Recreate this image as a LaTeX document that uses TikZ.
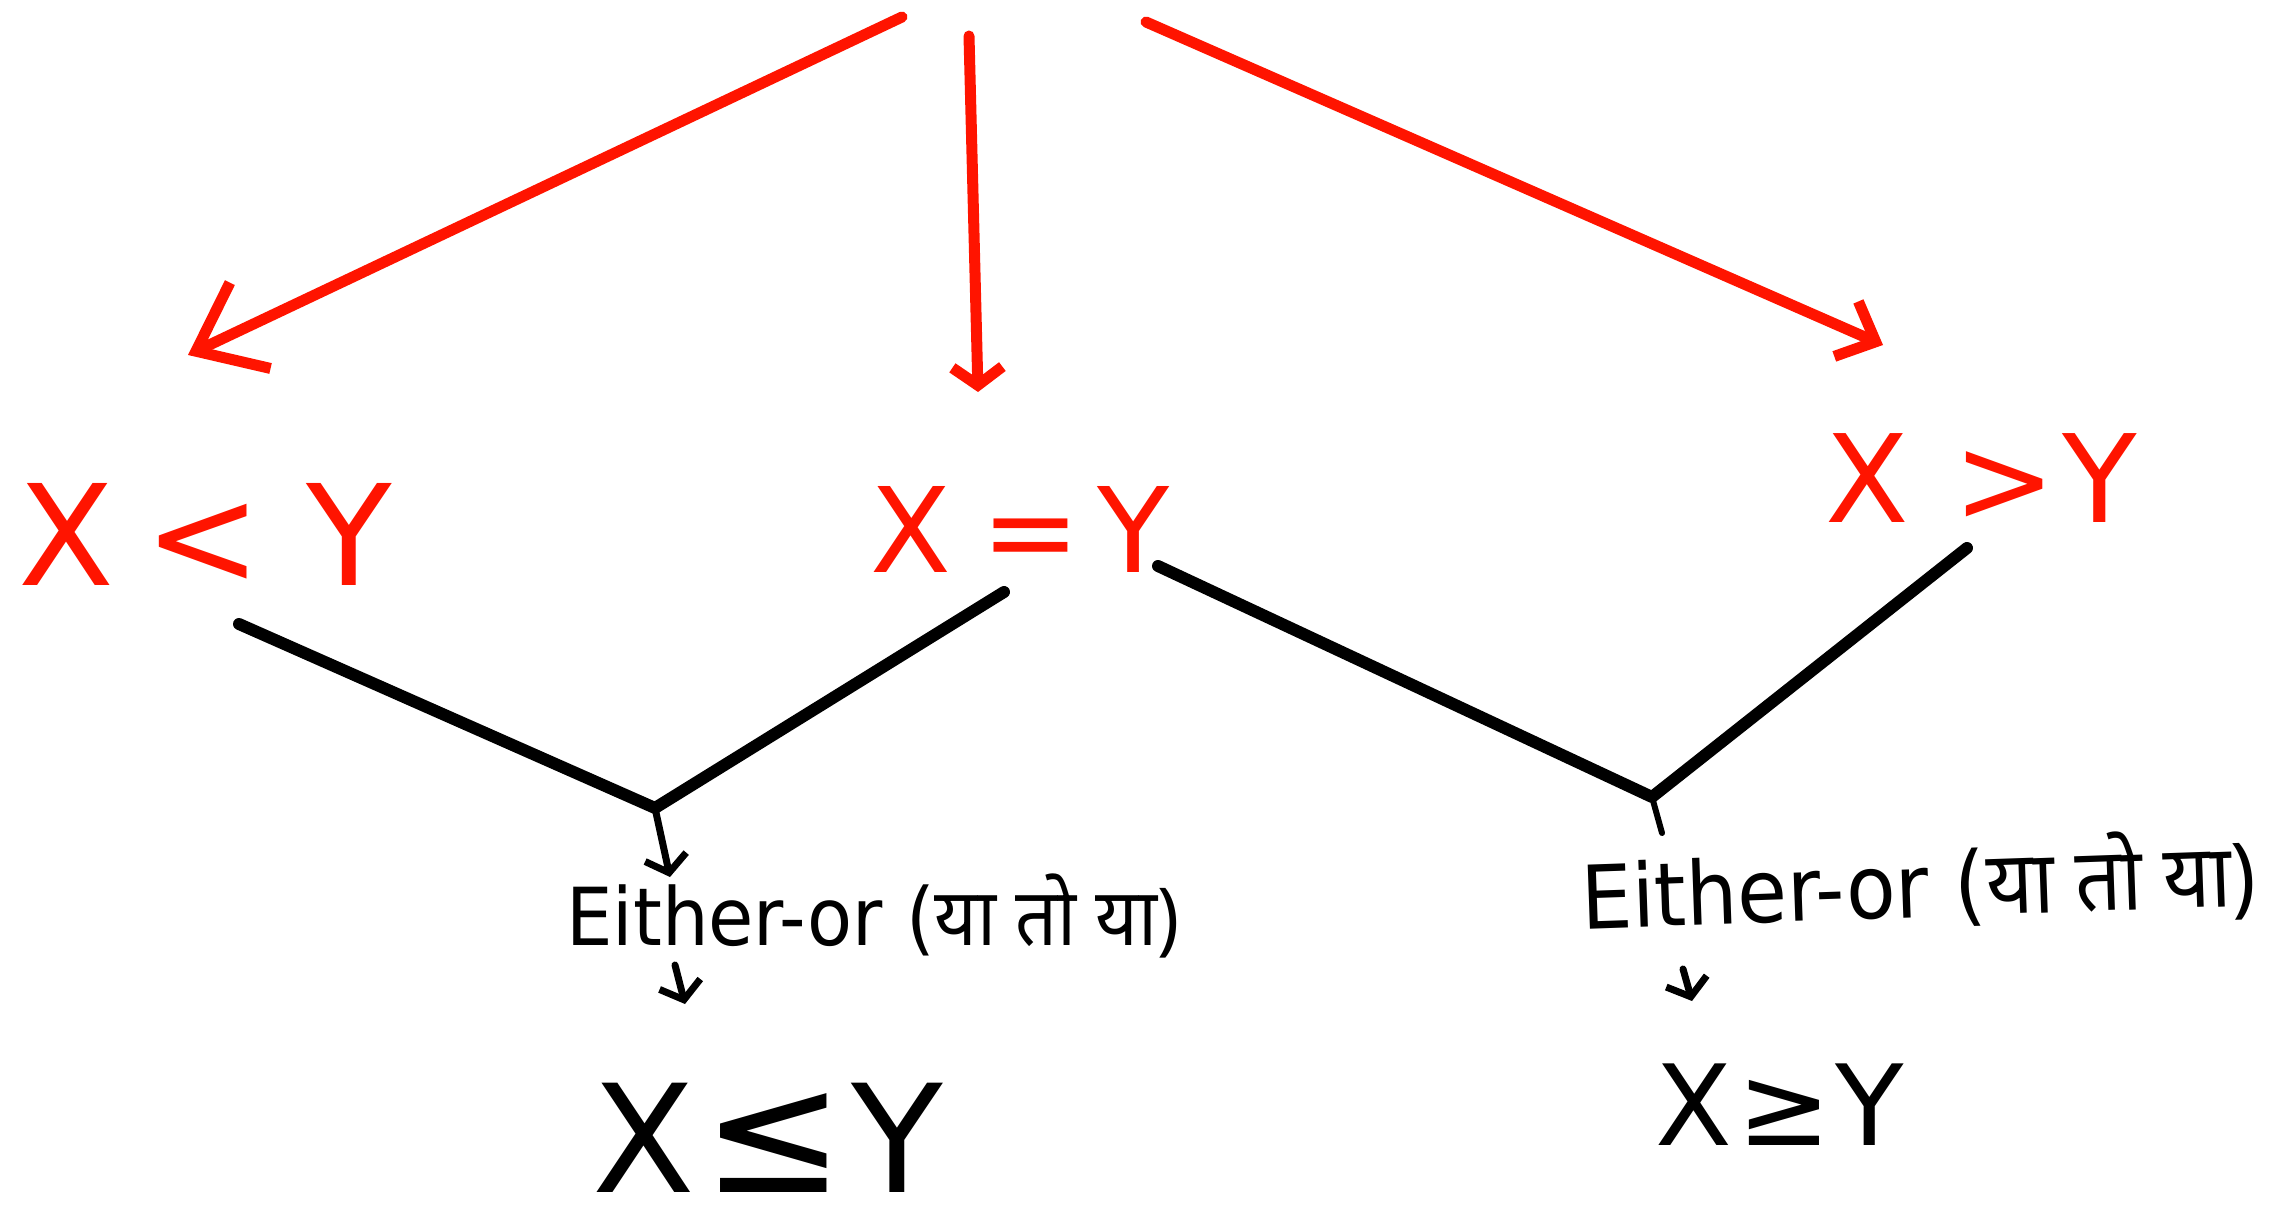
\documentclass[tikz,border=0pt]{standalone}
\usepackage{fontspec}
\setmainfont{DejaVu Sans}
\newfontfamily\latn[FakeStretch=0.92]{DejaVu Sans}
\newfontfamily\deva[Script=Devanagari,FakeStretch=0.92]{Noto Sans}
\usetikzlibrary{arrows.meta,calc}
\definecolor{myred}{RGB}{255,20,0}
\begin{document}
\begin{tikzpicture}[x=1pt,y=-1pt,
  redline/.style={draw=myred,line width=11pt,line cap=round,line join=round},
  blkline/.style={draw=black,line width=12pt,line cap=round,line join=round},
  thinarrow/.style={draw=black,line width=7pt,line cap=round,-{Straight Barb[length=16pt,width=42pt]}},
  redlbl/.style={text=myred,inner sep=0pt,anchor=base west},
  blklbl/.style={text=black,inner sep=0pt,anchor=base west},
]
\useasboundingbox[fill=white] (0,0) rectangle (2275,1230);

% labels
\node[redlbl,font=\fontsize{140}{140}\selectfont] (lt) at (18,585) {X\hspace{30pt}<\hspace{45pt}Y};
\node[redlbl,font=\fontsize{118}{118}\selectfont] (eq) at (870,572) {X\hspace{30pt}=\hspace{18pt}Y};
\node[redlbl,font=\fontsize{122}{122}\selectfont] (gt) at (1825,522) {X\hspace{45pt}>\hspace{6pt}Y};
\node[blklbl,font=\fontsize{80}{80}\selectfont] (or1) at (566,945) {\latn Either-or (\deva या तो या)};
\node[blklbl,font=\fontsize{88}{88}\selectfont,rotate=2] (or2) at (1582,929) {\latn Either-or (\deva या तो या)};
\node[blklbl,font=\fontsize{150}{150}\selectfont] (le) at (592,1192) {X\hspace{8pt}{\fontsize{170}{170}\selectfont ≤}\hspace{6pt}Y};
\node[blklbl,font=\fontsize{112}{112}\selectfont] (ge) at (1655,1145) {X\hspace{6pt}≥\hspace{4pt}Y};

% red arrows
\coordinate (s1) at (902,17);  \coordinate (t1) at (188,355);
\coordinate (s2) at (969,36);  \coordinate (t2) at (978,392);
\coordinate (s3) at (1146,22); \coordinate (t3) at (1883,345);
\draw[redline,-{Straight Barb[length=60pt,width=95pt]}] (s1) -- (t1);
\draw[redline,-{Straight Barb[length=18pt,width=50pt]}] (s2) -- (t2);
\draw[redline,-{Straight Barb[length=32pt,width=60pt]}] (s3) -- (t3);

% black joins
\coordinate (a1) at (239,624);  \coordinate (a2) at (1004,592); \coordinate (j1) at (655,808);
\coordinate (b1) at (1158,566); \coordinate (b2) at (1967,548); \coordinate (j2) at (1652,797);
\draw[blkline] (a1) -- (j1) -- (a2);
\draw[blkline] (b1) -- (j2) -- (b2);
\coordinate (j2e) at (1662,833);
\draw[draw=black,line width=6pt,line cap=round] (j2) -- (j2e);

\coordinate (o1t) at (670,877);
\draw[thinarrow] (j1) -- (o1t);
\coordinate (o1b) at (675,965); \coordinate (le1) at (685,1004);
\draw[thinarrow] (o1b) -- (le1);
\coordinate (o2b) at (1683,969); \coordinate (ge1) at (1692,1001);
\draw[thinarrow] (o2b) -- (ge1);
\end{tikzpicture}
\end{document}
